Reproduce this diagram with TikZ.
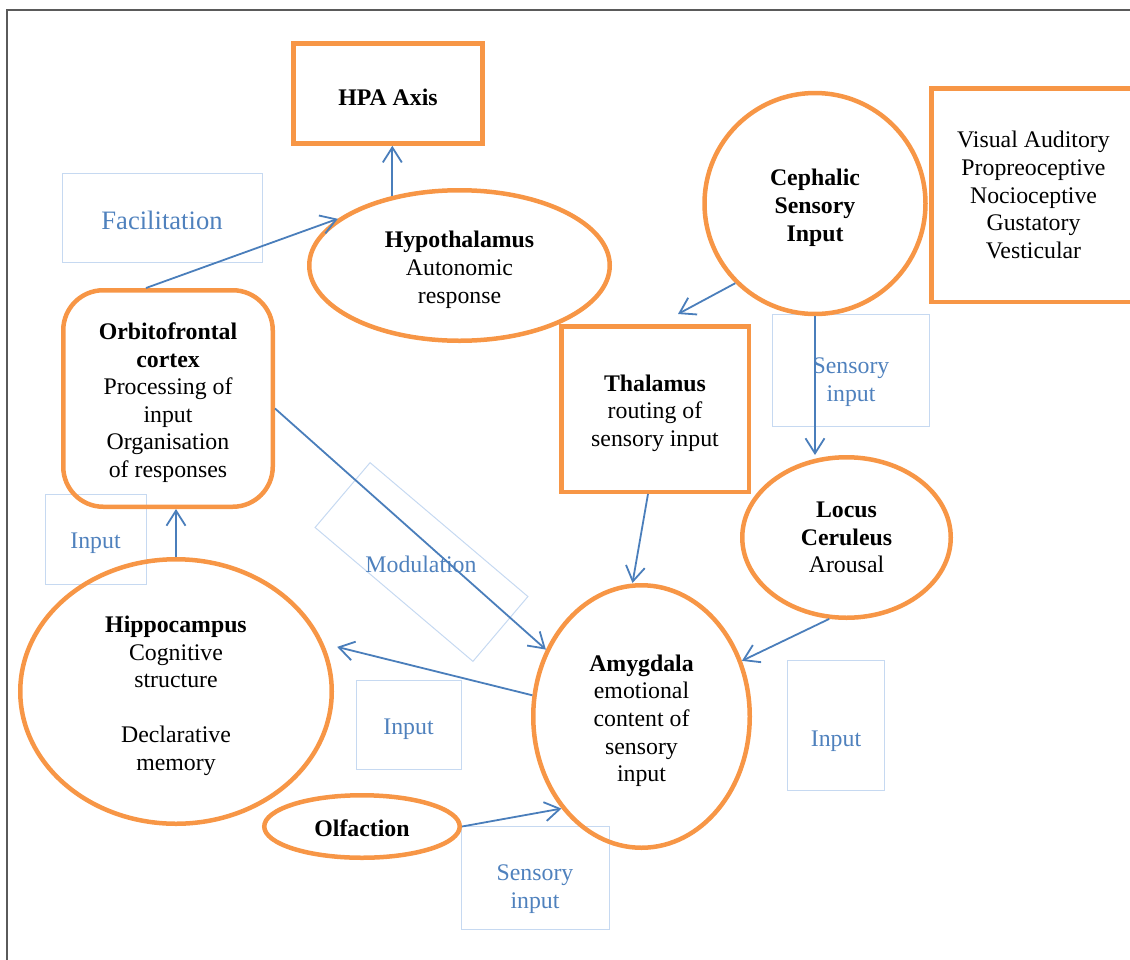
\documentclass[tikz,border=0pt]{standalone}
\usepackage{fontspec}
\setmainfont{Liberation Serif}
\usetikzlibrary{shapes.geometric,arrows.meta}
\definecolor{org}{HTML}{F79646}
\definecolor{arrblue}{HTML}{4A7EBB}
\definecolor{lblblue}{HTML}{4F81BD}
\definecolor{lblline}{HTML}{C6D9F1}
\definecolor{framegray}{HTML}{5A5A5A}
\begin{document}
\begin{tikzpicture}[x=1pt,y=-1pt,
  txt/.style={font=\fontsize{23.8pt}{27.6pt}\selectfont, align=center, text=black},
  obox/.style={draw=org, line width=4.5pt, rectangle, inner sep=0pt, txt},
  oell/.style={draw=org, line width=4.5pt, ellipse, inner sep=0pt, txt},
  lbox/.style={draw=lblline, line width=1pt, rectangle, inner sep=0pt},
  ltxt/.style={font=\fontsize{23.8pt}{27.6pt}\selectfont, align=center, text=lblblue, inner sep=0pt},
  arr/.style={draw=arrblue, line width=1.8pt, -{Straight Barb[length=15pt,width=19pt]}},
]
\newcommand\tp{\rule{0pt}{25pt}}
\useasboundingbox (0,0) rectangle (1130,959);
\clip (0,0) rectangle (1130,959);
% frame
\draw[framegray, line width=1.5pt] (7,975) -- (7,10) -- (1145,10);

% label boxes
\node[lbox, minimum width=200pt, minimum height=89pt] (facbox) at (162,217.5) {};
\node[ltxt, font=\fontsize{26.6pt}{30pt}\selectfont] (fac) at (162,220) {Facilitation};
\node[lbox, minimum width=101pt, minimum height=90pt] (inlbox) at (95.5,539) {};
\node[ltxt] (inl) at (95.5,543.5) {Input};
\node[lbox, rotate=-40.3, minimum width=207pt, minimum height=85pt] (modbox) at (421.5,562) {};
\node[ltxt] (mod) at (421,564.5) {Modulation};
\node[lbox, minimum width=105pt, minimum height=89pt] (inmbox) at (408.5,724.5) {};
\node[ltxt] (inm) at (408.5,729.5) {Input};
\node[lbox, minimum width=148pt, minimum height=103pt] (sibbox) at (535,877.5) {};
\node[ltxt] (sib) at (535,889) {Sensory\\input};
\node[lbox, minimum width=157pt, minimum height=112pt] (sitbox) at (850.5,370) {};
\node[ltxt] (sit) at (851,382) {Sensory\\input};
\node[lbox, minimum width=97pt, minimum height=130pt] (inrbox) at (835.5,725) {};
\node[ltxt] (inr) at (836,741.5) {Input};

% main shapes
\node[obox, minimum width=189pt, minimum height=100pt] (hpa) at (388,93.5) {\tp\textbf{HPA Axis}};
\node[oell, minimum width=300.5pt, minimum height=150.5pt] (hyp) at (459.5,265.5) {\tp\textbf{Hypothalamus}\\Autonomic\\response};
\node[obox, rounded corners=40pt, minimum width=209.5pt, minimum height=216.5pt] (orb) at (168,398.5) {\tp\textbf{Orbitofrontal}\\\textbf{cortex}\\Processing of\\input\\Organisation\\of responses};
\node[oell, minimum width=311.5pt, minimum height=264.5pt] (hip) at (176,691.5) {\tp\textbf{Hippocampus}\\Cognitive\\structure\\[27.6pt]Declarative\\memory};
\node[oell, minimum width=195.5pt, minimum height=62.5pt] (olf) at (362,826.5) {\rule{0pt}{21pt}\textbf{Olfaction}};
\node[oell, minimum width=216.5pt, minimum height=262.5pt] (amy) at (641.5,716.5) {\tp\textbf{Amygdala}\\emotional\\content of\\sensory\\input};
\node[draw=org, line width=4.5pt, circle, inner sep=0pt, txt, minimum size=221pt] (ceph) at (815,203.5) {\tp\textbf{Cephalic}\\\textbf{Sensory}\\\textbf{Input}};
\node[obox, minimum width=204.5pt, minimum height=213.5pt] (vis) at (1033.5,195) {Visual Auditory\\Propreoceptive\\Nocioceptive\\Gustatory\\Vesticular};
\node[obox, minimum width=187.5pt, minimum height=165.5pt] (thal) at (655,409) {\tp\textbf{Thalamus}\\routing of\\sensory input};
\node[oell, minimum width=208.5pt, minimum height=160.5pt] (loc) at (846.5,537.5) {\textbf{Locus}\\\textbf{Ceruleus}\\Arousal};

% connectors
\draw[arr] (hyp.134) -- (hyp.134 |- hpa.south);
\draw[arr] ([xshift=-22pt]orb.north) -- (hyp.159);
\draw[arr] ([yshift=-10pt]orb.east) -- (amy.145);
\draw[arr] (hip.north) -- (hip.north |- orb.south);
\draw[arr, shorten >=14pt] (amy.169) -- (hip.18);
\draw[arr] (olf.east) -- (amy.229);
\draw[arr] (ceph.225) -- ([xshift=23pt,yshift=10pt]thal.north);
\draw[arr] (ceph.south) -- (ceph.south |- loc.north);
\draw[arr] ([xshift=-7pt]thal.south) -- ([xshift=-9pt]amy.north);
\draw[arr] (loc.258) -- (amy.29);
\end{tikzpicture}
\end{document}
